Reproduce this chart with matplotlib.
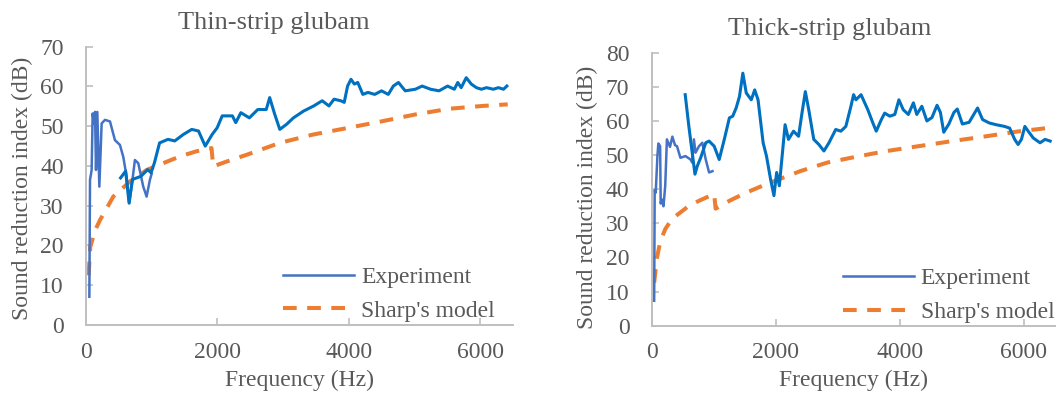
import matplotlib
matplotlib.use("Agg")
import matplotlib.pyplot as plt

plt.rcParams['font.family'] = ['Liberation Serif', 'DejaVu Serif']

# ---------------- data: Thin-strip glubam ----------------
thin_low_f = [51, 61, 86, 101, 122, 137, 152, 172, 203, 238, 289, 365, 440, 516, 567,
              618, 658, 694, 744, 795, 871, 922, 972, 998]
thin_low_v = [7.1, 36.5, 39.0, 53.2, 50.7, 53.6, 39.0, 53.6, 34.8, 50.7, 51.6, 51.2, 46.5,
              45.3, 42.3, 37.3, 30.6, 34.8, 41.5, 40.7, 34.8, 32.3, 36.5, 38.0]

thin_high_f = [526, 603, 655, 706, 835, 938, 990, 1041, 1119, 1247, 1350, 1479, 1608, 1711,
               1814, 1918, 1995, 2072, 2227, 2278, 2356, 2485, 2613, 2742, 2794, 2871, 2948,
               3052, 3155, 3309, 3464, 3593, 3696, 3773, 3876, 3928, 3979, 4031, 4082, 4134,
               4211, 4289, 4392, 4495, 4598, 4675, 4753, 4856, 5010, 5113, 5242, 5371, 5500,
               5603, 5655, 5707, 5784, 5861, 5938, 6015, 6093, 6196, 6273, 6351, 6402]
thin_high_v = [37.0, 38.7, 30.7, 36.6, 37.4, 39.1, 38.3, 40.8, 45.8, 46.7, 46.3, 47.9, 49.2,
               48.8, 45.0, 47.9, 49.6, 52.6, 52.6, 50.9, 53.4, 52.1, 54.2, 54.2, 57.2, 53.0,
               49.2, 50.5, 52.1, 53.8, 55.1, 56.4, 55.1, 56.8, 56.4, 56.0, 60.1, 61.8, 60.6,
               61.0, 58.0, 58.5, 58.0, 58.9, 58.0, 60.1, 61.0, 58.9, 59.3, 60.1, 59.3, 58.9,
               60.1, 59.3, 61.0, 59.7, 62.2, 60.6, 59.7, 59.3, 59.7, 59.3, 59.7, 59.3, 60.1]

thin_model_f = [40, 55, 65, 90, 130, 213, 320, 415, 550, 668, 800, 922, 1174, 1428, 1681,
                1909, 1935, 2137, 2441, 2947, 3453, 3960, 4490, 5023, 5529, 6035, 6415]
thin_model_v = [12.5, 17.0, 19.7, 21.0, 23.5, 26.4, 29.5, 32.3, 34.3, 36.1, 37.5, 39.0, 40.7,
                42.4, 43.7, 44.5, 39.9, 41.1, 42.8, 45.8, 47.9, 49.5, 51.2, 53.0, 54.4, 55.1,
                55.5]

# ---------------- data: Thick-strip glubam ----------------
thick_low_f = [40, 48, 65, 92, 107, 136, 145, 163, 190, 218, 245, 295, 333, 376, 408, 463,
               544, 626, 653, 680, 707, 762, 816, 871, 925, 980]
thick_low_v = [7.3, 39.7, 39.0, 49.7, 53.4, 52.6, 35.8, 37.0, 35.0, 41.0, 54.6, 52.4, 55.4,
               52.9, 52.6, 49.2, 49.7, 48.7, 47.8, 54.6, 50.7, 52.6, 53.6, 48.7, 44.9, 45.3]

thick_high_f = [540, 599, 653, 697, 735, 789, 871, 925, 1007, 1088, 1170, 1252, 1306, 1361,
                1415, 1469, 1524, 1605, 1660, 1714, 1796, 1850, 1916, 1970, 2014, 2057, 2112,
                2150, 2204, 2286, 2367, 2422, 2476, 2531, 2612, 2694, 2776, 2857, 2966, 3048,
                3129, 3211, 3254, 3292, 3374, 3483, 3565, 3619, 3701, 3755, 3837, 3918, 3984,
                4054, 4136, 4218, 4272, 4354, 4435, 4517, 4599, 4653, 4707, 4789, 4871, 4925,
                5007, 5116, 5252, 5333, 5442, 5551, 5687, 5769, 5850, 5905, 5959, 6014, 6068,
                6150, 6259, 6340, 6422]
thick_high_v = [67.7, 58.4, 50.7, 44.4, 46.8, 49.2, 53.6, 54.1, 52.6, 48.7, 54.6, 60.9, 61.4,
                63.8, 67.2, 74.0, 68.2, 66.2, 69.1, 66.2, 53.6, 49.7, 42.9, 38.1, 44.9, 41.0,
                51.6, 58.9, 54.6, 57.0, 55.5, 62.3, 68.6, 63.3, 54.6, 53.1, 51.2, 53.6, 57.5,
                57.0, 58.4, 64.3, 67.7, 66.2, 67.7, 63.3, 59.4, 57.0, 60.4, 62.3, 61.4, 61.9,
                66.2, 63.3, 61.9, 65.3, 61.9, 64.3, 60.0, 61.0, 64.6, 62.5, 56.7, 59.1, 62.5,
                63.5, 59.1, 59.6, 63.8, 60.4, 59.4, 58.9, 58.4, 57.9, 54.6, 53.1, 54.6, 58.4,
                57.0, 55.0, 53.6, 54.6, 54.1]

thick_model_f = [40, 82, 136, 218, 327, 463, 599, 762, 1007, 1030, 1252, 1524, 1850, 2122,
                 2395, 2830, 3211, 3755, 4299, 4844, 5388, 5932, 6422]
thick_model_v = [12.6, 19.6, 24.5, 28.3, 31.3, 33.2, 35.1, 36.6, 38.6, 34.3, 36.6, 39.0, 41.5,
                 43.4, 45.3, 47.8, 49.2, 51.1, 52.6, 54.1, 55.5, 57.0, 58.0]

titles = ["Thin-strip glubam", "Thick-strip glubam"]
ylims = [70, 80]
x_ticks = [0, 2000, 4000, 6000]
legend_labels = ["Experiment", "Sharp's model"]

# ---------------- style ----------------
W, H = 1058, 396
TXT = '#595959'
SPINE = '#BFBFBF'
C_LOW = '#4472C4'
C_HIGH = '#0070C0'
C_MODEL = '#ED7D31'
FS = 17

fig = plt.figure(figsize=(W / 100, H / 100), dpi=100)

# axes rectangles in pixels: (left, right, top, bottom)
rects = [(86, 513.3, 46.7, 325.0), (651.7, 1055.0, 52.7, 325.7)]
title_pos = [(274, 23), (830, 29)]
ylabel_pos = [(22, 188), (587, 197)]
legend_anchor = [(0.461, 0.111), (0.474, 0.111)]

panels = [
    (thin_low_f, thin_low_v, thin_high_f, thin_high_v, thin_model_f, thin_model_v),
    (thick_low_f, thick_low_v, thick_high_f, thick_high_v, thick_model_f, thick_model_v),
]

for i, (lf, lv, hf, hv, mf, mv) in enumerate(panels):
    l, r, t, b = rects[i]
    ax = fig.add_axes([l / W, 1 - b / H, (r - l) / W, (b - t) / H])
    ax.plot(lf, lv, color=C_LOW, lw=1.8, label=legend_labels[0], zorder=3)
    ax.plot(hf, hv, color=C_HIGH, lw=2.2, zorder=3)
    ax.plot(mf, mv, color=C_MODEL, lw=2.9, linestyle=(0, (3.4, 2.6)),
            label=legend_labels[1], zorder=2)
    ax.set_xlim(0, 6500)
    ax.set_ylim(0, ylims[i])
    ax.set_xticks(x_ticks)
    ax.set_yticks(range(0, ylims[i] + 1, 10))
    for s in ['top', 'right']:
        ax.spines[s].set_visible(False)
    for s in ['left', 'bottom']:
        ax.spines[s].set_color(SPINE)
        ax.spines[s].set_linewidth(1.4)
    ax.tick_params(axis='both', direction='in', length=5, width=1.2, color=SPINE,
                   labelsize=FS, labelcolor=TXT)
    ax.tick_params(axis='y', pad=16)
    ax.tick_params(axis='x', pad=12)
    ax.set_xlabel("Frequency (Hz)", fontsize=FS, color=TXT, labelpad=5)
    fig.text(ylabel_pos[i][0] / W, 1 - ylabel_pos[i][1] / H, "Sound reduction index (dB)",
             rotation=90, ha='center', va='center', fontsize=FS, color=TXT)
    fig.text(title_pos[i][0] / W, 1 - title_pos[i][1] / H, titles[i],
             ha='center', va='center', fontsize=19, color=TXT)
    leg = ax.legend(loc='center left', bbox_to_anchor=legend_anchor[i], frameon=False,
                    fontsize=FS, handlelength=3.0, handletextpad=0.3, labelspacing=0.5,
                    borderpad=0, borderaxespad=0)
    for txt in leg.get_texts():
        txt.set_color(TXT)

fig.savefig("out.png", dpi=100)
